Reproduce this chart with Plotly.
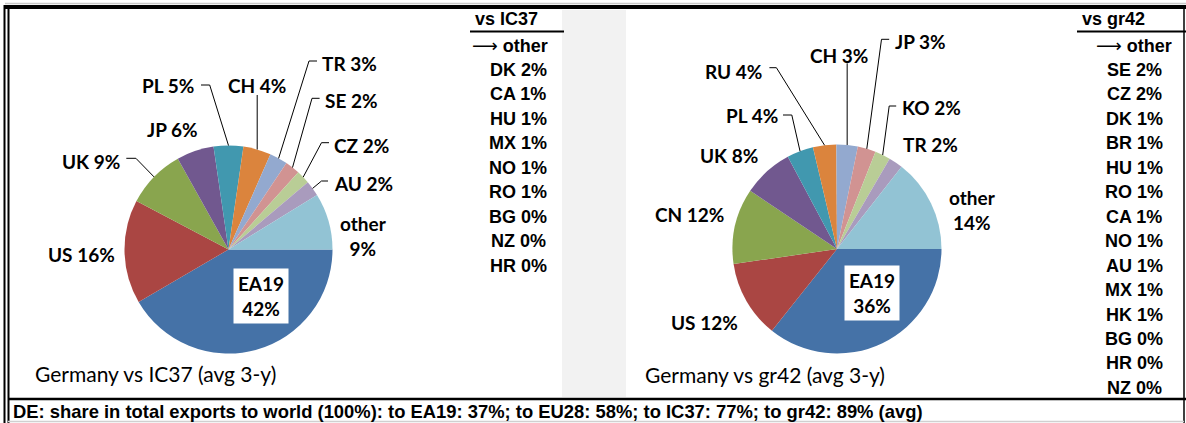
import math
import plotly.graph_objects as go

W, H = 1186, 423

# ---------------- data ----------------
left_cats = ["EA19", "US", "UK", "JP", "PL", "CH", "TR", "SE", "CZ", "AU", "other"]
left_vals = [41.6, 16.1, 9.2, 5.8, 4.6, 4.3, 2.8, 2.3, 2.1, 2.4, 8.8]
right_cats = ["EA19", "US", "CN", "UK", "PL", "RU", "CH", "JP", "KO", "TR", "other"]
right_vals = [35.7, 12.0, 11.7, 7.8, 4.1, 3.6, 3.3, 2.8, 2.4, 2.2, 14.4]

left_other_cats = ["DK", "CA", "HU", "MX", "NO", "RO", "BG", "NZ", "HR"]
left_other_vals = [2, 1, 1, 1, 1, 1, 0, 0, 0]
right_other_cats = ["SE", "CZ", "DK", "BR", "HU", "RO", "CA", "NO", "AU", "MX", "HK", "BG", "HR", "NZ"]
right_other_vals = [2, 2, 1, 1, 1, 1, 1, 1, 1, 1, 1, 0, 0, 0]

summary_groups = ["EA19", "EU28", "IC37", "gr42"]
summary_vals = [37, 58, 77, 89]

colors = ["#4572A7", "#AA4643", "#89A54E", "#71588F", "#4198AF", "#DB843D",
          "#93A9CF", "#D19392", "#B9CD96", "#A99BBD", "#92C3D4"]

# ---------------- layout constants ----------------
PIE_L = dict(cx=228.5, cy=249.5, r=104.0)
PIE_R = dict(cx=837.0, cy=249.0, r=104.5)

# label centre positions and leader specs (pixels)
left_label_pos = {
    "EA19": (260.5, 296), "US": (81, 254.3), "UK": (90.7, 161), "JP": (172.8, 129.3),
    "PL": (168, 86), "CH": (257, 85.7), "TR": (349.6, 63.3), "SE": (351, 100.7),
    "CZ": (362, 145.3), "AU": (363.6, 184), "other": (363.5, 235.5),
}
left_leaders = {
    "UK": ("h", 126.3, 158.3, 135.9), "PL": ("h", 201, 85, 209.7), "CH": ("v", 95),
    "TR": ("h", 317, 61, 309), "SE": ("h", 319.6, 98.3, 312), "CZ": ("h", 329, 142.7, 321.5),
    "AU": ("h", 328, 181, 321.5),
}
right_label_pos = {
    "EA19": (872, 293), "US": (704.7, 322.7), "CN": (689.8, 215), "UK": (728.8, 155.7),
    "PL": (751.6, 115), "RU": (733, 71), "CH": (839, 56), "JP": (920.8, 41),
    "KO": (931.4, 107.3), "TR": (930, 144), "other": (972.3, 209.7),
}
right_leaders = {
    "PL": ("h", 783, 115, 791.8), "RU": ("h", 769.4, 67.7, 776.4), "CH": ("v", 63.3),
    "JP": ("h", 889.2, 39.3, 881.5), "KO": ("h", 896.2, 106, 889.2),
}

LABEL_FONT = "Lato, Carlito, Calibri, sans-serif"
LIST_FONT = "Liberation Sans, Arial, sans-serif"
LIST_SIZE = 18


def X(px):
    return px / W


def Y(py):
    return 1 - py / H


fig = go.Figure()
shapes = []
annotations = []

# background / frame
shapes.append(dict(type="rect", xref="paper", yref="paper", x0=X(562), x1=X(626), y0=Y(397), y1=Y(10),
                   fillcolor="#F2F2F2", line=dict(width=0), layer="below"))
shapes.append(dict(type="line", xref="paper", yref="paper", x0=X(5), x1=X(1186), y0=Y(3.5), y1=Y(3.5),
                   line=dict(color="#C8C8C8", width=1.5)))
shapes.append(dict(type="line", xref="paper", yref="paper", x0=X(5), x1=X(1186), y0=Y(7), y1=Y(7),
                   line=dict(color="black", width=4)))
shapes.append(dict(type="line", xref="paper", yref="paper", x0=X(4.5), x1=X(4.5), y0=Y(5), y1=Y(423),
                   line=dict(color="black", width=2)))
shapes.append(dict(type="line", xref="paper", yref="paper", x0=X(8.5), x1=X(8.5), y0=Y(9), y1=Y(423),
                   line=dict(color="black", width=2)))
shapes.append(dict(type="line", xref="paper", yref="paper", x0=X(1184), x1=X(1184), y0=Y(9), y1=Y(423),
                   line=dict(color="black", width=1.5)))
shapes.append(dict(type="line", xref="paper", yref="paper", x0=X(8), x1=X(1186), y0=Y(399), y1=Y(399),
                   line=dict(color="black", width=2.5)))
shapes.append(dict(type="line", xref="paper", yref="paper", x0=X(8), x1=X(1184), y0=Y(421.5), y1=Y(421.5),
                   line=dict(color="#D0D0D0", width=1.5)))


def add_pie(cats, vals, geo, label_pos, leaders, title, title_pos):
    cx, cy, r = geo["cx"], geo["cy"], geo["r"]
    fig.add_trace(go.Pie(
        labels=cats, values=vals, sort=False, direction="clockwise", rotation=90,
        textinfo="none", marker=dict(colors=colors, line=dict(width=0)),
        domain=dict(x=[X(cx - r), X(cx + r)], y=[Y(cy + r), Y(cy - r)]),
        showlegend=False, hoverinfo="label+percent",
    ))
    total = sum(vals)
    cum = 0.0
    for cat, v in zip(cats, vals):
        mid = (cum + v / 2) / total * 2 * math.pi
        cum += v
        sx, sy = cx + r * math.cos(mid), cy + r * math.sin(mid)
        lx, ly = label_pos[cat]
        pct = round(v)
        if cat == "EA19":
            annotations.append(dict(
                x=X(lx), y=Y(ly), xref="paper", yref="paper", showarrow=False,
                text=f"<b>{cat}<br>{pct}%</b>", bgcolor="white", width=52, height=52,
                font=dict(family=LABEL_FONT, size=19, color="black"), xanchor="center", yanchor="middle"))
        elif cat == "other":
            annotations.append(dict(
                x=X(lx), y=Y(ly), xref="paper", yref="paper", showarrow=False,
                text=f"<b>{cat}<br>{pct}%</b>",
                font=dict(family=LABEL_FONT, size=19, color="black"), xanchor="center", yanchor="middle"))
        else:
            annotations.append(dict(
                x=X(lx), y=Y(ly), xref="paper", yref="paper", showarrow=False,
                text=f"<b>{cat} {pct}%</b>",
                font=dict(family=LABEL_FONT, size=19, color="black"), xanchor="center", yanchor="middle"))
        if cat in leaders:
            spec = leaders[cat]
            if spec[0] == "h":
                _, x0, y0, x1 = spec
                path = f"M {X(x0)},{Y(y0)} L {X(x1)},{Y(y0)} L {X(sx)},{Y(sy)}"
            else:
                _, y0 = spec
                path = f"M {X(sx)},{Y(y0)} L {X(sx)},{Y(sy)}"
            shapes.append(dict(type="path", xref="paper", yref="paper", path=path,
                               line=dict(color="black", width=1)))
    annotations.append(dict(
        x=X(title_pos[0]), y=Y(title_pos[1]), xref="paper", yref="paper", showarrow=False,
        text=title, font=dict(family=LABEL_FONT, size=21, color="black"),
        xanchor="center", yanchor="middle"))


add_pie(left_cats, left_vals, PIE_L, left_label_pos, left_leaders,
        "Germany vs IC37 (avg 3-y)", (155.7, 373.3))
add_pie(right_cats, right_vals, PIE_R, right_label_pos, right_leaders,
        "Germany vs gr42 (avg 3-y)", (765.5, 374))


def add_list(header, header_x, arrow_x, item_x, cats, vals, ul_x0, ul_x1):
    annotations.append(dict(x=X(header_x), y=Y(19), xref="paper", yref="paper", showarrow=False,
                            text=f"<b>{header}</b>", xanchor="center", yanchor="middle",
                            font=dict(family=LIST_FONT, size=LIST_SIZE, color="black")))
    shapes.append(dict(type="line", xref="paper", yref="paper", x0=X(ul_x0), x1=X(ul_x1),
                       y0=Y(31.5), y1=Y(31.5), line=dict(color="black", width=2)))
    annotations.append(dict(x=X(arrow_x), y=Y(45), xref="paper", yref="paper", showarrow=False,
                            text="<span style=\"font-family:'DejaVu Sans';font-weight:normal\">\u27f6</span> <b>other</b>",
                            xanchor="center", yanchor="middle",
                            font=dict(family=LIST_FONT, size=LIST_SIZE, color="black")))
    for i, (c, v) in enumerate(zip(cats, vals)):
        annotations.append(dict(x=X(item_x), y=Y(70 + 24.45 * i), xref="paper", yref="paper",
                                showarrow=False, text=f"<b>{c} {v}%</b>", xanchor="center",
                                yanchor="middle", font=dict(family=LIST_FONT, size=LIST_SIZE, color="black")))


add_list("vs IC37", 506, 510, 518, left_other_cats, left_other_vals, 470, 564)
add_list("vs gr42", 1113, 1134, 1134, right_other_cats, right_other_vals, 1077, 1186)

summary = "DE: share in total exports to world (100%): " + "; ".join(
    f"to {g}: {v}%" for g, v in zip(summary_groups, summary_vals)) + " (avg)"
annotations.append(dict(x=X(11), y=Y(411), xref="paper", yref="paper", showarrow=False,
                        text=f"<b>{summary}</b>", xanchor="left", yanchor="middle",
                        font=dict(family=LIST_FONT, size=18.4, color="black")))

fig.update_layout(
    width=W, height=H, margin=dict(l=0, r=0, t=0, b=0),
    paper_bgcolor="white", plot_bgcolor="white",
    shapes=shapes, annotations=annotations,
)

fig.write_html("out.html", config={"displayModeBar": False},
               post_script="document.body.style.margin='0px';document.body.style.overflow='hidden';")
